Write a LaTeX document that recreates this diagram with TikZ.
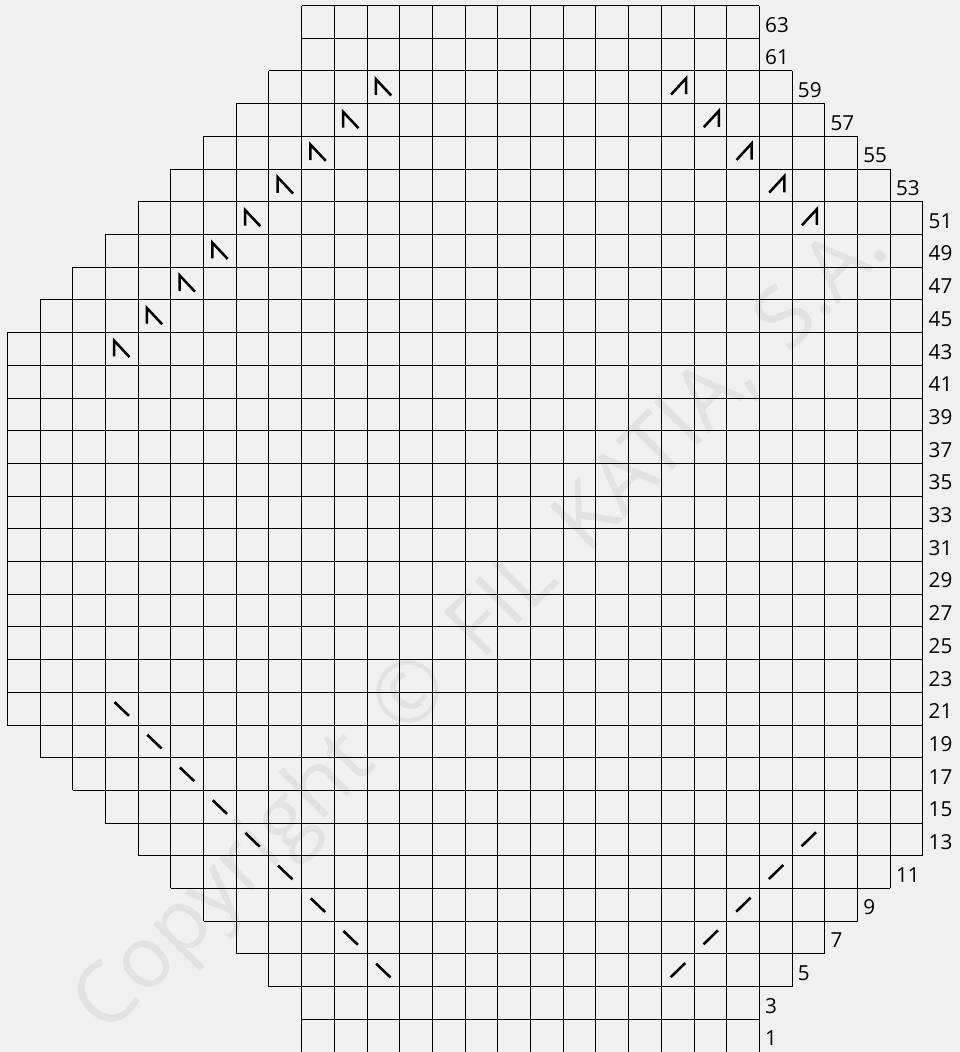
\documentclass[tikz,border=0pt]{standalone}
\usepackage{fontspec}
\setmainfont{Open Sans}
\definecolor{ChartBack}{RGB}{240, 240, 240}
\definecolor{WaterGray}{RGB}{226, 226, 226}

\begin{document}
\begin{tikzpicture}[x=1cm, y=1cm,
    cell/.style={draw=black, line width=0.8pt},
    stitch/.style={line width=2.2pt, line join=miter},
    rowno/.style={anchor=base west, inner sep=0pt, font=\fontsize{18}{18}\selectfont}]
    \fill[ChartBack] (-0.223,0) rectangle (29.13,32.17);
    \useasboundingbox (-0.223,0) rectangle (29.13,32.17);

    % Watermark
    \node[WaterGray, rotate=45, inner sep=0pt, font=\fontsize{74}{74}\selectfont] (watermark) at (14.55,12.95) {\spaceskip=0.45em\relax Copyright © FIL KATIA, S.A.};

    % Rows: index / first column / last column
    \foreach \r/\a/\b in {0/9/22, 1/9/22, 2/8/23, 3/7/24, 4/6/25, 5/5/26, 6/4/27, 7/3/27,
                          8/2/27, 9/1/27, 10/0/27, 11/0/27, 12/0/27, 13/0/27, 14/0/27, 15/0/27,
                          16/0/27, 17/0/27, 18/0/27, 19/0/27, 20/0/27, 21/0/27, 22/1/27, 23/2/27,
                          24/3/27, 25/4/27, 26/5/26, 27/6/25, 28/7/24, 29/8/23, 30/9/22, 31/9/22} {
      \pgfmathtruncatemacro{\e}{\b+1}
      \foreach \c in {\a,...,\e}
        \draw[cell] (\c,\r) -- (\c,\r+1);
      \pgfmathtruncatemacro{\lbl}{2*\r+1}
      \node[rowno] (row\lbl) at (\b+1.17,\r+0.19) {\lbl};
    }

    % Row borders: height / from / to
    \foreach \k/\a/\b in {0/9/23, 1/9/23, 2/8/24, 3/7/25, 4/6/26, 5/5/27, 6/4/28, 7/3/28,
                          8/2/28, 9/1/28, 10/0/28, 11/0/28, 12/0/28, 13/0/28, 14/0/28, 15/0/28,
                          16/0/28, 17/0/28, 18/0/28, 19/0/28, 20/0/28, 21/0/28, 22/0/28, 23/1/28,
                          24/2/28, 25/3/28, 26/4/28, 27/5/27, 28/6/26, 29/7/25, 30/8/24, 31/9/23, 32/9/23}
      \draw[cell] (\a,\k) -- (\b,\k);

    % Decreases, upper left
    \foreach \r [evaluate=\r as \c using int(\r-18)] in {21,...,29}
      \draw[stitch] (\c+0.27,\r+0.27) -- (\c+0.27,\r+0.75) -- (\c+0.74,\r+0.25);

    % Decreases, upper right
    \foreach \r [evaluate=\r as \c using int(49-\r)] in {25,...,29}
      \draw[stitch] (\c+0.76,\r+0.29) -- (\c+0.76,\r+0.78) -- (\c+0.30,\r+0.28);

    % Increases, lower left
    \foreach \r [evaluate=\r as \c using int(13-\r)] in {2,...,10}
      \draw[stitch] (\c+0.28,\r+0.70) -- (\c+0.72,\r+0.28);

    % Increases, lower right
    \foreach \r [evaluate=\r as \c using int(18+\r)] in {2,...,6}
      \draw[stitch] (\c+0.29,\r+0.29) -- (\c+0.73,\r+0.72);
\end{tikzpicture}
\end{document}
